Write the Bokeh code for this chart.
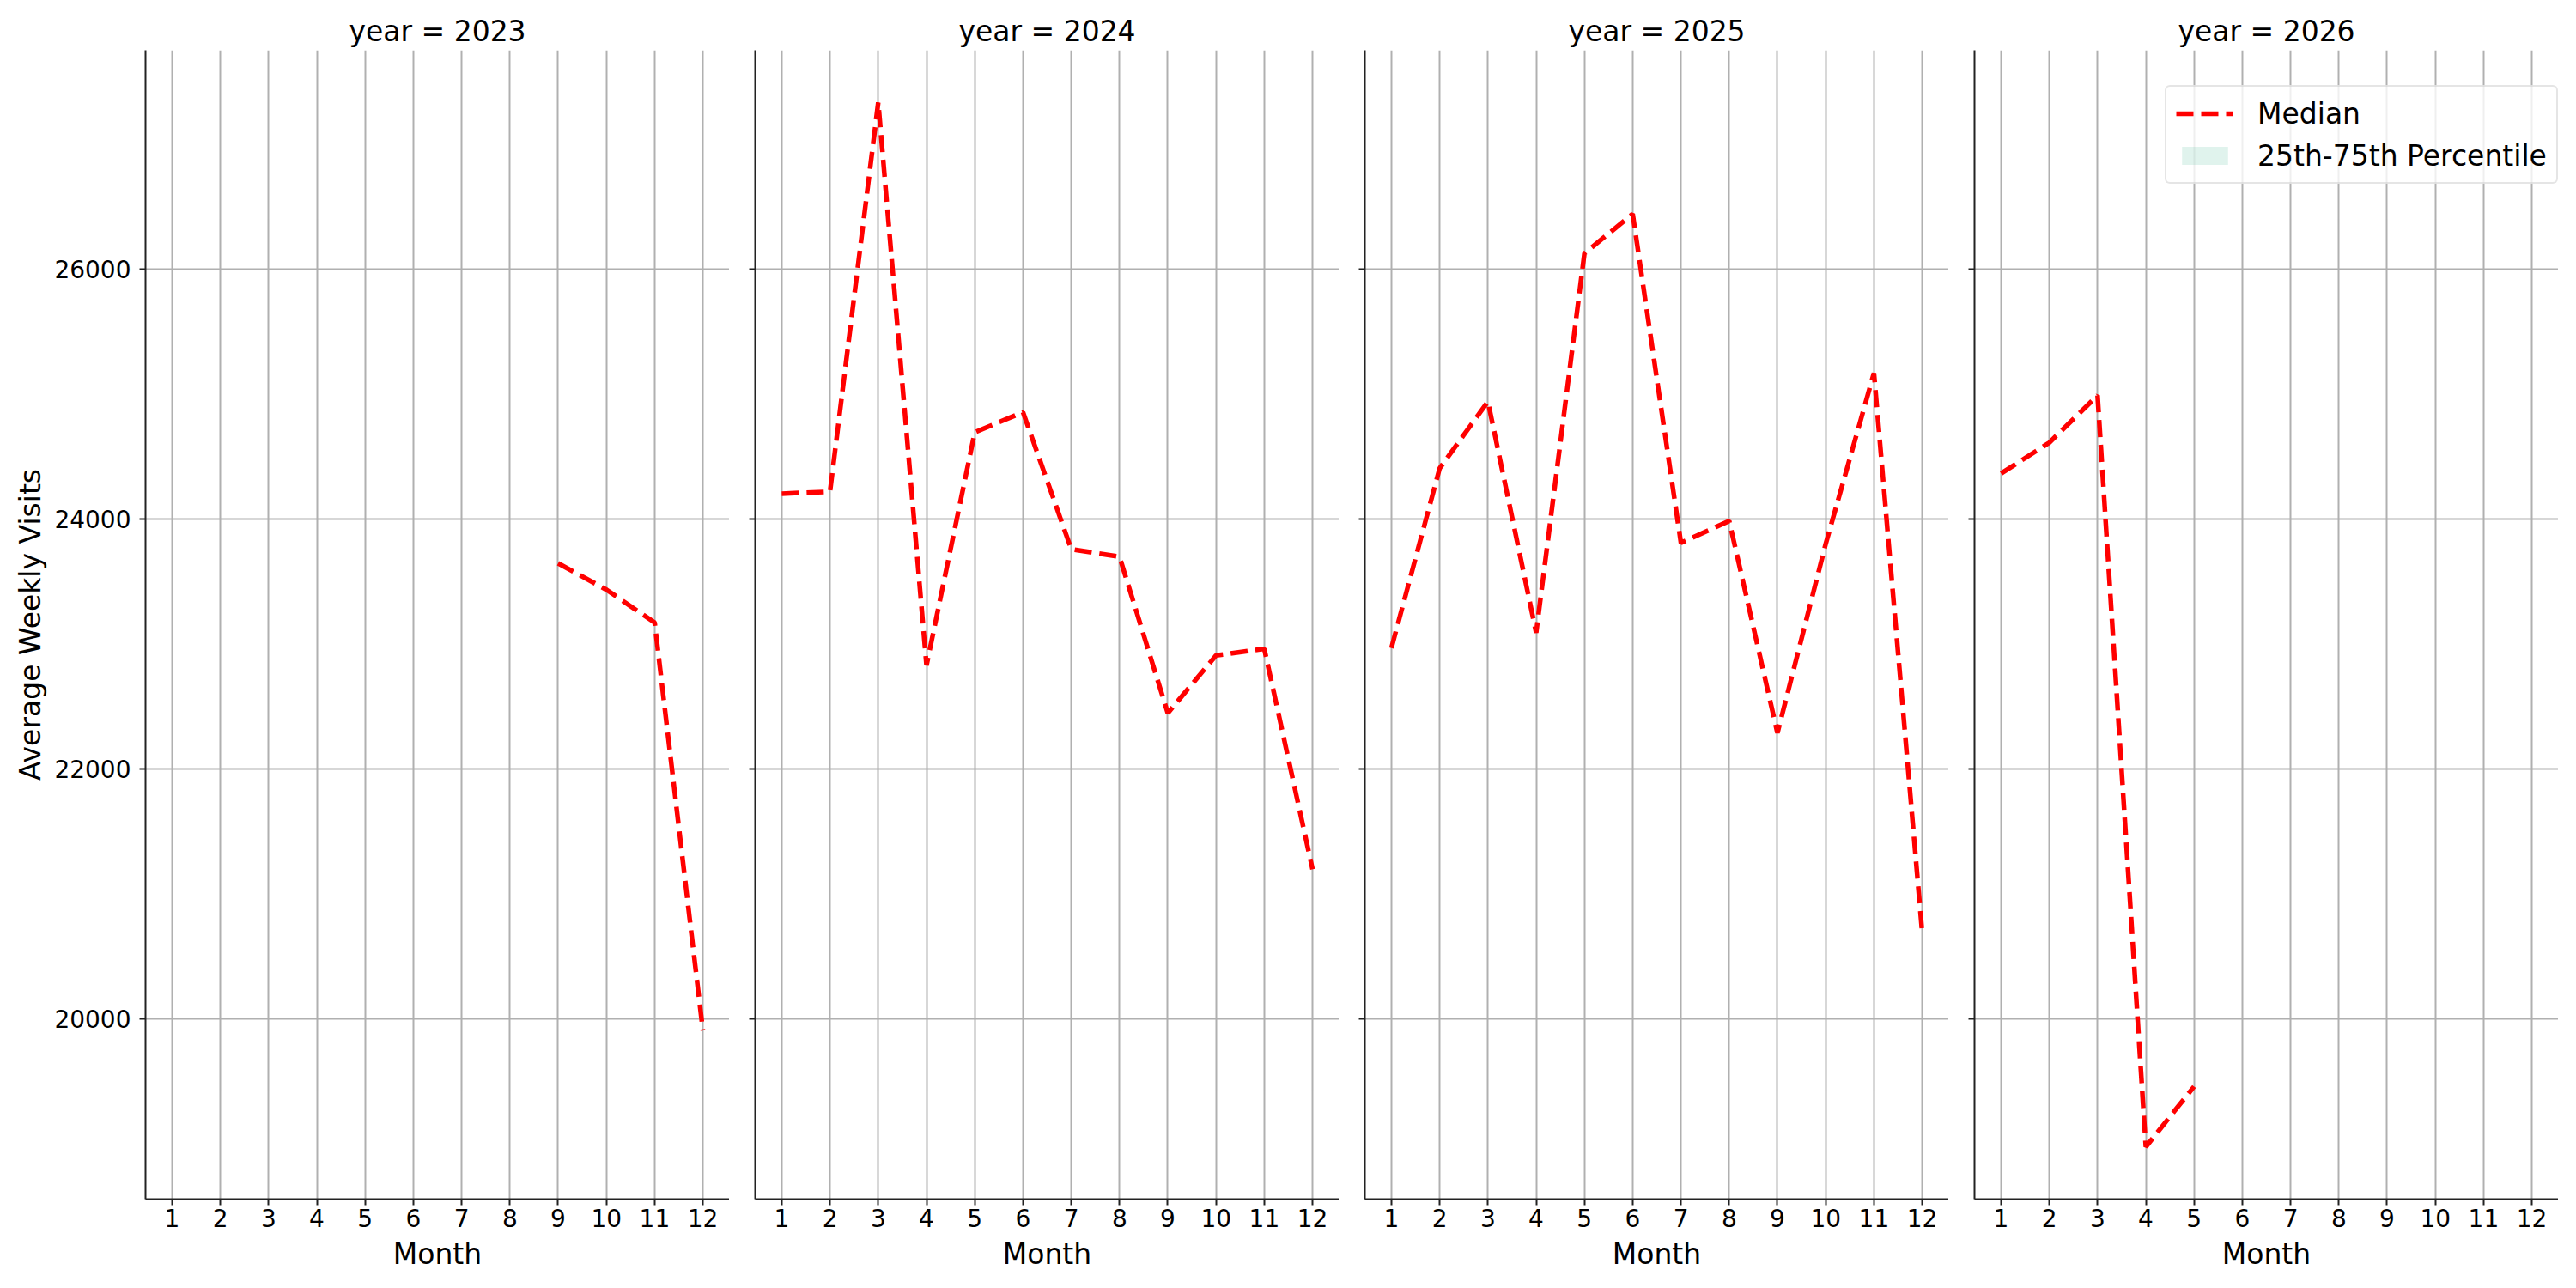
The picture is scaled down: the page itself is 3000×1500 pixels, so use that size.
from bokeh.plotting import figure
from bokeh.layouts import row
from bokeh.models import Range1d, FixedTicker, Legend, LegendItem, NumeralTickFormatter
from bokeh.embed import file_html
from bokeh.resources import INLINE

# ---------------- data ----------------
years = [2023, 2024, 2025, 2026]
months_2023 = [9, 10, 11, 12]
median_2023 = [23645, 23434, 23171, 19908]
months_2024 = [1, 2, 3, 4, 5, 6, 7, 8, 9, 10, 11, 12]
median_2024 = [24202, 24218, 27331, 22829, 24693, 24853, 23758, 23697, 22447, 22908, 22961, 21197]
months_2025 = [1, 2, 3, 4, 5, 6, 7, 8, 9, 10, 11, 12]
median_2025 = [22967, 24405, 24939, 23090, 26123, 26440, 23808, 23984, 22288, 23800, 25167, 20688]
months_2026 = [1, 2, 3, 4, 5]
median_2026 = [24364, 24610, 24988, 18977, 19460]
# 25th-75th percentile band: collapsed onto the median in the picture (zero width)
p25_2023, p75_2023 = median_2023, median_2023
p25_2024, p75_2024 = median_2024, median_2024
p25_2025, p75_2025 = median_2025, median_2025
p25_2026, p75_2026 = median_2026, median_2026

month_ticks = [1, 2, 3, 4, 5, 6, 7, 8, 9, 10, 11, 12]
y_ticks = [20000, 22000, 24000, 26000]
x_label = "Month"
y_label = "Average Weekly Visits"
legend_labels = ["Median", "25th-75th Percentile"]

series = [
    (years[0], months_2023, median_2023, p25_2023, p75_2023),
    (years[1], months_2024, median_2024, p25_2024, p75_2024),
    (years[2], months_2025, median_2025, p25_2025, p75_2025),
    (years[3], months_2026, median_2026, p25_2026, p75_2026),
]

# ---------------- styling ----------------
FONT = "DejaVu Sans"
FRAME_W, FRAME_H = 680, 1338
GRID = "#b0b0b0"
AXC = "#222222"

all_vals = median_2023 + median_2024 + median_2025 + median_2026
vmin, vmax = min(all_vals), max(all_vals)
pad = 0.05 * (vmax - vmin)
xpad = 0.05 * (max(month_ticks) - min(month_ticks))

figs = []
for i, (yr, xs, ys, lo, hi) in enumerate(series):
    p = figure(
        frame_width=FRAME_W, frame_height=FRAME_H,
        x_range=Range1d(min(month_ticks) - xpad, max(month_ticks) + xpad),
        y_range=Range1d(vmin - pad, vmax + pad),
        output_backend="svg", toolbar_location=None,
        min_border_left=169 if i == 0 else 30, min_border_right=0,
        min_border_top=58, min_border_bottom=104,
    )
    p.outline_line_color = None
    p.background_fill_color = "white"
    p.border_fill_color = "white"

    p.title.text = f"year = {yr}"
    p.title.align = "center"
    p.title.text_font = FONT
    p.title.text_font_size = "33px"
    p.title.text_font_style = "normal"
    p.title.text_color = "black"
    p.title.standoff = 5

    for ax in (p.xaxis[0], p.yaxis[0]):
        ax.axis_line_color = AXC
        ax.axis_line_width = 2
        ax.major_tick_line_color = AXC
        ax.major_tick_line_width = 2
        ax.major_tick_out = 7
        ax.major_tick_in = 0
        ax.minor_tick_out = 0
        ax.minor_tick_in = 0
        ax.major_label_text_font = FONT
        ax.major_label_text_font_size = "28px"
        ax.major_label_text_color = "black"
        ax.axis_label_text_font = FONT
        ax.axis_label_text_font_size = "33px"
        ax.axis_label_text_font_style = "normal"
        ax.axis_label_text_color = "black"

    p.xaxis.ticker = FixedTicker(ticks=month_ticks)
    p.xaxis.major_label_standoff = 4
    p.xaxis.axis_label = x_label
    p.xaxis.axis_label_standoff = 9

    p.yaxis.ticker = FixedTicker(ticks=y_ticks)
    p.yaxis.formatter = NumeralTickFormatter(format="0")
    if i == 0:
        p.yaxis.major_label_standoff = 10
        p.yaxis.axis_label = y_label
        p.yaxis.axis_label_standoff = 5
    else:
        # shared y axis: tick marks only, no labels
        p.yaxis.major_label_overrides = {t: "" for t in y_ticks}
        p.yaxis.major_label_standoff = 0
        p.yaxis.axis_label = None

    p.grid.grid_line_color = GRID
    p.grid.grid_line_width = 2

    band = p.varea(x=xs, y1=lo, y2=hi, fill_color="#66c2a5", fill_alpha=0.2)
    line = p.line(xs, ys, line_color="red", line_width=5.5, line_dash="20 9")

    if i == len(series) - 1:
        legend = Legend(
            items=[LegendItem(label=legend_labels[0], renderers=[line]),
                   LegendItem(label=legend_labels[1], renderers=[band])],
            location=(222, 1182),
            label_text_font=FONT, label_text_font_size="33px", label_text_color="black",
            glyph_width=67, glyph_height=26, label_height=40, label_standoff=28,
            spacing=9, padding=11, margin=0,
            border_line_color="#cccccc", border_line_width=2,
            background_fill_color="white", background_fill_alpha=0.8,
        )
        if "border_radius" in Legend.properties():
            legend.border_radius = 6
        p.add_layout(legend)

    figs.append(p)

layout = row(*figs)
open("out.html", "w").write(file_html(layout, INLINE))
